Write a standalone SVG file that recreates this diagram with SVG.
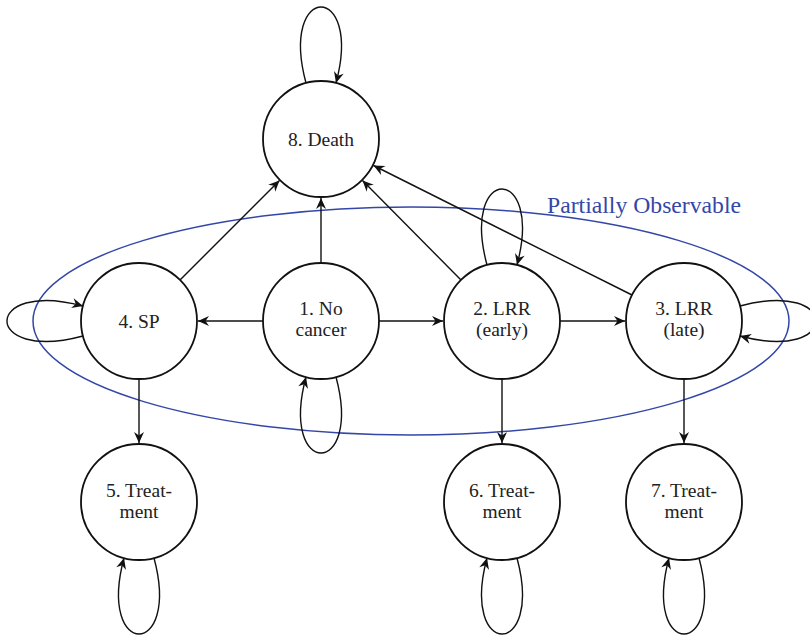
<svg xmlns="http://www.w3.org/2000/svg" width="810" height="636" viewBox="0 0 810 636">
<defs>
<style>
.node circle{fill:#fff;stroke:#111;stroke-width:1.8}
.node text{font-family:"Liberation Serif","Times New Roman",serif;font-size:19.5px;fill:#222;text-anchor:middle}
.edge{fill:none;stroke:#111;stroke-width:1.4;marker-end:url(#arr)}
.region{fill:none;stroke:#3447a8;stroke-width:1.5}
.rlabel{font-family:"Liberation Serif","Times New Roman",serif;font-size:23.7px;fill:#3447a8}
</style>
<marker id="arr" viewBox="-12 -6 13 12" refX="0" refY="0" markerWidth="13" markerHeight="12" markerUnits="userSpaceOnUse" orient="auto">
<path d="M0,0 L-11,-5 L-7.5,0 L-11,5 Z" fill="#111"/>
</marker>
</defs>
<rect width="810" height="636" fill="#fff"/>
<g id="region">
<ellipse class="region" cx="411" cy="321" rx="378" ry="114"/>
<text class="rlabel" x="547" y="213">Partially Observable</text>
</g>
<g id="connectors">
<path class="edge" d="M263,321 L198,321"/>
<path class="edge" d="M379,321 L443,321"/>
<path class="edge" d="M560,321 L625,321"/>
<path class="edge" d="M321,263 L321,198"/>
<path class="edge" d="M180,280 L279.5,180.5"/>
<path class="edge" d="M461,280 L362.5,180.5"/>
<path class="edge" d="M632,295 L373.5,165.5"/>
<path class="edge" d="M139,379 L139,443"/>
<path class="edge" d="M502,379 L502,443"/>
<path class="edge" d="M684,379 L684,443"/>
<path class="edge" d="M306,83 C278.8,-18.4 363.2,-18.4 336,83"/>
<path class="edge" d="M487,265 C459.8,163.6 544.2,163.6 517,265"/>
<path class="edge" d="M83,336 C-18.4,363.2 -18.4,278.8 83,306"/>
<path class="edge" d="M740,306 C841.4,278.8 841.4,363.2 740,336"/>
<path class="edge" d="M336,377 C363.2,478.4 278.8,478.4 306,377"/>
<path class="edge" d="M154,558 C181.2,659.4 96.8,659.4 124,558"/>
<path class="edge" d="M517,558 C544.2,659.4 459.8,659.4 487,558"/>
<path class="edge" d="M699,558 C726.2,659.4 641.8,659.4 669,558"/>
</g>
<g id="n8" class="node"><circle cx="321" cy="139" r="58"/><text x="321" y="146">8. Death</text></g>
<g id="n4" class="node"><circle cx="139" cy="321" r="58"/><text x="139" y="328">4. SP</text></g>
<g id="n1" class="node"><circle cx="321" cy="321" r="58"/><text x="321" y="315">1. No</text><text x="321" y="336">cancer</text></g>
<g id="n2" class="node"><circle cx="502" cy="321" r="58"/><text x="502" y="315">2. LRR</text><text x="502" y="336">(early)</text></g>
<g id="n3" class="node"><circle cx="684" cy="321" r="58"/><text x="684" y="315">3. LRR</text><text x="684" y="336">(late)</text></g>
<g id="n5" class="node"><circle cx="139" cy="502" r="58"/><text x="139" y="497">5. Treat-</text><text x="139" y="518">ment</text></g>
<g id="n6" class="node"><circle cx="502" cy="502" r="58"/><text x="502" y="497">6. Treat-</text><text x="502" y="518">ment</text></g>
<g id="n7" class="node"><circle cx="684" cy="502" r="58"/><text x="684" y="497">7. Treat-</text><text x="684" y="518">ment</text></g>
</svg>
